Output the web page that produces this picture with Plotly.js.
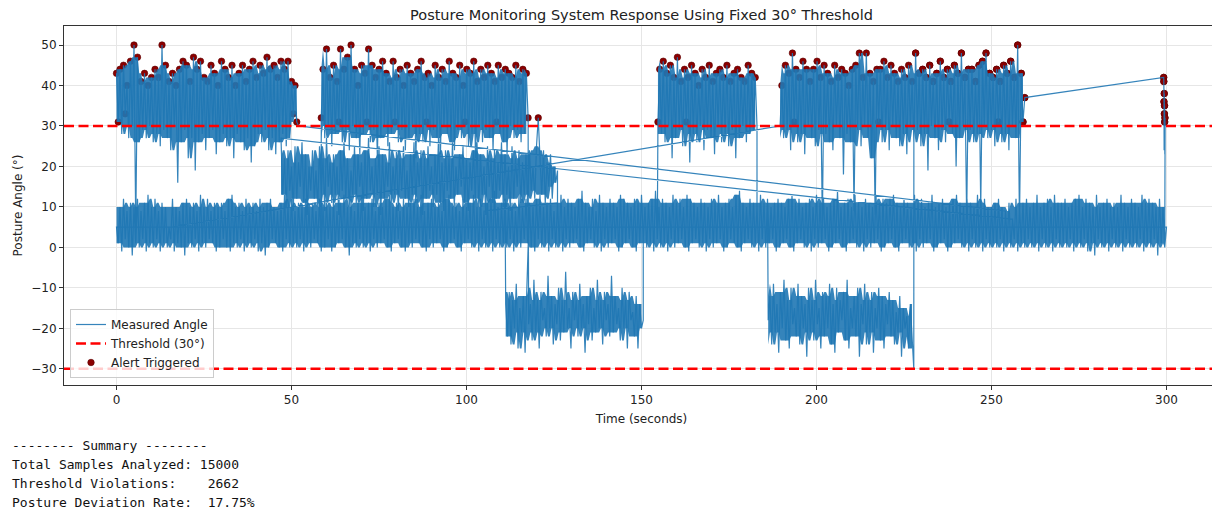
<!DOCTYPE html>
<html><head><meta charset="utf-8">
<script src="https://cdn.plot.ly/plotly-3.0.1.min.js"></script>
<style>
html,body{margin:0;padding:0;background:#fff;overflow:hidden;width:1212px;height:509px;}
#chart{position:absolute;left:0;top:0;width:1222px;height:509px;}
#summary{position:absolute;left:12px;top:436px;margin:0;font-family:"DejaVu Sans Mono",monospace;font-size:13px;line-height:19px;color:#111;}
</style></head><body>
<div id="chart"></div>
<pre id="summary"></pre>
<script>
// ---------- data (angles in degrees) ----------
const thresholds = [30, -30];
const xTicks = [0, 50, 100, 150, 200, 250, 300];
const yTicks = [-30, -20, -10, 0, 10, 20, 30, 40, 50];

// upright baseline, 0 -> 300 s
const baselineSpan = [0, 300];
const baselineAngle = [
5,1,10,-1,12,2,9,0,11,-2,10,1,12,0,9,2,11,-1,13,1,
10,0,12,2,9,-1,11,1,10,0,5,2,12,-1,10,1,9,0,11,-2,
12,1,10,0,11,2,9,-1,13,1,10,0,12,2,9,1,11,-1,10,0,
11,2,9,0,12,-1,13,1,10,0,11,2,9,-1,12,1,10,0,11,2,
9,-1,12,1,10,-2,11,0,12,2,10,1,9,0,11,-1,13,2,10,0,
12,1,9,0,11,2,10,-1,12,1,10,0,11,2,9,1,12,-1,10,0,
11,2,10,-1,12,0,9,1,11,2,13,0,10,-2,12,1,9,0,11,2,
13,0,10,1,11,-1,12,2,9,0,11,1,10,2,12,0,13,-1,10,1,
11,2,9,0,12,-1,10,1,11,0,12,2,10,1,13,0,9,-1,11,2,
12,0,10,1,11,2,9,-1,12,0,13,1,10,2,11,0,9,-1,12,1,
10,2,11,0,13,1,10,-1,12,2,9,0,11,1,12,-1,14,2,10,0,
11,1,12,0,10,2,11,-1,9,1,13,0,10,2,12,1,11,0,10,-1,
12,2,13,0,10,1,11,-1,12,2,9,0,11,1,13,-1,10,2,12,0,
11,1,10,2,12,0,14,-1,11,1,10,2,12,0,9,1,13,-1,11,2,
10,0,12,1,11,2,10,-1,13,0,12,1,11,2,10,0,12,-1,11,1,
13,2,10,0,11,1,12,-1,14,2,10,0,12,1,11,-1,10,2,13,0,
11,1,12,2,10,0,13,-1,12,1,11,2,10,0,12,1,11,-1,10,2,
12,0,11,1,13,2,10,-1,11,0,12,2,10,1,13,0,14,-1,11,1,
10,2,12,0,11,1,10,-1,13,2,11,0,12,1,10,2,11,-1,12,0,
11,1,10,2,12,0,13,-1,11,1,12,2,10,0,11,1,12,-1,10,2,
13,0,11,1,12,2,10,-1,11,0,12,1,14,2,10,0,11,-1,12,1,
10,2,13,0,11,1,10,-1,12,2,11,0,10,1,13,2,11,-1,12,0,
11,1,12,2,13,0,11,-1,10,1,12,2,11,0,10,1,13,-1,11,2,
12,0,10,1,11,2,13,-1,10,0,11,1,12,2,10,-1,11,0,12,1,
13,2,11,0,10,1,12,-1,11,2,10,0,13,1,11,-1,12,2,10,0,
10,1,11,0,12,2,10,-1,9,1,11,0,7,2,12,-1,10,1,11,0,
12,2,10,0,11,1,13,-1,10,2,11,0,12,1,10,-1,13,2,11,0,
11,1,12,0,10,2,11,-1,12,1,13,0,10,2,12,-1,11,1,10,-2,
13,2,10,0,11,1,12,-1,10,2,11,0,10,1,13,-1,11,2,10,0,
12,1,11,0,10,2,13,-1,11,1,12,0,11,2,10,-2,12,1,10,0,
5];

// forward-slouch episode A, 0 -> 52 s
const slouchASpan = [0, 52];
const slouchAAngle = [
43,31,44,28,45,33,40,27,46,30,
50,5,47,26,41,29,43,27,40,30,
42,26,44,28,42,25,50,29,45,27,
41,24,43,30,40,16,44,26,46,29,
45,22,41,27,47,19,44,26,46,28,
42,24,41,27,45,29,43,23,40,26,
46,28,44,25,42,27,45,22,40,28,
43,26,45,24,41,27,44,21,46,25,
42,28,45,26,43,29,47,24,44,27,
45,23,42,26,46,28,44,25,46,27,
41,33,40,31,30];

// mild lean episode B, 47 -> 126 s
const leanBSpan = [47, 126];
const leanBAngle = [
27,13,22,10,24,14,20,9,25,12,
21,15,26,11,23,8,20,14,24,12,
19,10,25,13,22,9,27,15,21,11,
23,13,20,8,24,14,26,12,22,10,
19,13,25,11,23,15,21,9,24,12,
27,14,20,10,22,13,25,8,23,12,
21,15,26,11,20,13,24,9,22,14,
25,12,19,10,23,13,26,11,21,15,
24,8,22,12,25,14,20,10,23,13,
27,11,21,9,24,14,22,12,26,10,
20,13,23,15,25,11,22,9,21,14,
24,12,26,10,23,13,20,8,25,15,
22,11,24,12,21,14,26,10,23,13,
20,9,25,12,22,15,24,11,21,13,
23,10,24,14,20,12,25,32,22,13,
24,11,21,15,23,12,20,16,19];

// forward-slouch episode C, 58.5 -> 117.6 s
const slouchCSpan = [58.5, 117.6];
const slouchCAngle = [
32,44,27,49,30,42,25,45,28,41,
31,49,26,44,29,47,24,50,30,44,
27,40,23,45,28,43,31,49,26,45,
29,42,22,44,27,46,30,43,25,41,
28,46,31,42,26,44,29,40,24,45,
27,43,30,41,22,44,28,46,26,42,
31,43,25,40,29,45,27,42,23,44,
30,41,28,46,26,43,24,42,29,45,
27,40,31,44,25,43,28,46,22,41,
30,44,26,42,29,45,27,43,24,41,
31,45,28,42,26,44,23,43,30,42,
27,45,29,41,26,44,28,43,32];

// backward recline episode D, 111.2 -> 150.5 s
const reclineDSpan = [111.2, 150.5];
const reclineDAngle = [
-14,-22,-11,-24,-13,-20,-9,-25,-15,-21,
-12,-26,-10,-19,-14,-23,-8,-21,-13,-25,
-11,-18,-15,-22,-7,-20,-12,-24,-14,-19,
-10,-23,-13,-21,-6,-20,-15,-25,-11,-18,
-13,-22,-9,-20,-14,-26,-12,-19,-10,-23,
-15,-21,-8,-20,-13,-24,-11,-18,-14,-22,
-7,-21,-12,-19,-15,-23,-10,-20,-13,-25,
-11,-18,-16,-22,-12,-25,-14,-20,-18];

// forward-slouch episode E, 154.7 -> 183 s
const slouchESpan = [154.7, 183];
const slouchEAngle = [
31,44,28,46,26,43,30,45,22,42,
27,47,29,41,25,44,31,42,21,45,
28,43,26,40,30,44,24,42,29,45,
27,41,23,43,30,44,26,42,28,45,
25,41,29,43,22,44,27,42,30,41,
26,45,28,43,29,42,30];

// backward recline episode F, 186.2 -> 227.8 s
const reclineFSpan = [186.2, 227.8];
const reclineFAngle = [
-18,-12,-24,-9,-21,-14,-26,-11,-20,-8,
-23,-13,-25,-10,-19,-15,-22,-9,-24,-12,
-20,-14,-27,-10,-21,-13,-23,-8,-19,-15,
-25,-11,-22,-12,-20,-9,-24,-14,-26,-10,
-21,-13,-18,-11,-23,-8,-25,-15,-20,-12,
-22,-10,-27,-14,-19,-9,-24,-13,-21,-11,
-26,-15,-20,-10,-23,-12,-25,-14,-19,-11,
-22,-13,-24,-16,-21,-12,-27,-15,-20,-17,
-25,-14,-22,-30];

// forward-slouch episode G, 189.6 -> 259.5 s
const slouchGSpan = [189.6, 259.5];
const slouchGAngle = [
30,40,27,45,29,43,24,48,31,44,
26,42,28,46,23,44,30,41,27,44,
25,46,29,42,6,45,28,43,26,41,
24,45,30,42,27,44,18,43,28,40,
26,44,9,45,29,48,25,42,30,48,
27,43,22,41,8,44,31,44,26,46,
29,42,24,45,30,43,27,41,25,44,
28,42,23,45,30,41,26,48,29,43,
25,44,28,42,19,45,30,41,27,43,
24,46,29,42,26,44,31,41,28,45,
20,43,27,48,30,42,7,44,29,44,
26,41,28,45,10,46,30,48,27,43,
29,42,25,44,31,41,26,45,28,43,
24,46,30,42,27,50,6,43,31,37];

// short slouch H at the end, 299.2 -> 299.6 s
const slouchHSpan = [299.2, 299.6];
const slouchHAngle = [42,41,36,24,38,33,35,31,23,32,30];

const runs = {
 BL:[baselineSpan, baselineAngle], A:[slouchASpan, slouchAAngle], B:[leanBSpan, leanBAngle],
 C:[slouchCSpan, slouchCAngle], D:[reclineDSpan, reclineDAngle], E:[slouchESpan, slouchEAngle],
 F:[reclineFSpan, reclineFAngle], G:[slouchGSpan, slouchGAngle], H:[slouchHSpan, slouchHAngle]
};
// order in which the recorded runs are stored (time stamps are not monotonic)
const runSequence = ['A','BL','B','BL','BL','G','H','BL','BL','C','D','BL','E','BL','F','G','H','BL','BL','D','BL','BL'];
const runFrom     = [0, 254, 47, 126, 0, 189.6, 299.2, 299.5, 0, 58.5, 117.6, 150.5, 154.7, 183, 186.2, 227.8, 299.2, 299.5, 15, 111.2, 117.6, 105];
const runTo       = [52, 256, 126, 300, 15, 259.5, 299.6, 300, 58.5, 117.6, 150.5, 154.7, 183, 186.2, 227.8, 259.5, 299.6, 300, 111.2, 117.6, 126, 120];
const denseRuns   = ['BL','A','B','C','D','E','F','G'];

// summary
const totalSamples = 15000;
const thresholdViolations = 2662;
const deviationRate = '17.75%';

// ---------- build ----------
function timesOf(k) {
  const span = runs[k][0], n = runs[k][1].length, dt = (span[1] - span[0]) / (n - 1);
  return runs[k][1].map((_, i) => span[0] + i * dt);
}
const tx = [], ty = [];
runSequence.forEach((k, j) => {
  const ts = timesOf(k), vals = runs[k][1];
  for (let i = 0; i < vals.length; i++) {
    if (ts[i] >= runFrom[j] - 1e-6 && ts[i] <= runTo[j] + 1e-6) { tx.push(ts[i]); ty.push(vals[i]); }
  }
});
const ax = [], ay = [];
for (let i = 0; i < tx.length; i++) if (ty[i] > thresholds[0]) { ax.push(tx[i]); ay.push(ty[i]); }

// dense core of each run: median of neighbouring stroke peaks / troughs of the recorded samples
function median(a) { const s = a.slice().sort((x, y) => x - y); return s[Math.floor(s.length / 2)]; }
function coreBand(k) {
  const ts = timesOf(k), v = runs[k][1], n = v.length;
  const p = [], q = [];
  for (let i = 0; i < n - 1; i++) { p.push(Math.max(v[i], v[i + 1])); q.push(Math.min(v[i], v[i + 1])); }
  const up = [], lo = [];
  for (let i = 0; i < n - 1; i++) {
    const a = Math.max(0, i - 2), b = Math.min(n - 1, i + 3);
    const u = median(p.slice(a, b)), l = median(q.slice(a, b));
    up.push(u); lo.push(Math.min(l, u));
  }
  const xs = ts.slice(0, n - 1);
  return {x: xs.concat(xs.slice().reverse()), y: up.concat(lo.slice().reverse())};
}

const blue = 'rgba(31,119,180,0.9)';
const xRange = [-15, 315];
const traces = [
  {x: ax, y: ay, mode: 'markers', name: 'Alert Triggered', legendrank: 3,
   marker: {color: '#8b0000', size: 6.5, line: {color: '#5a0000', width: 0.6}}, hoverinfo: 'skip'}
];
denseRuns.forEach(k => {
  const b = coreBand(k);
  traces.push({x: b.x, y: b.y, mode: 'lines', fill: 'toself', fillcolor: blue,
               line: {width: 0, color: blue}, showlegend: false, hoverinfo: 'skip'});
});
traces.push(
  {x: tx, y: ty, mode: 'lines', name: 'Measured Angle', legendrank: 1,
   line: {color: blue, width: 1.2, simplify: false}, hoverinfo: 'skip'},
  {x: xRange, y: [thresholds[0], thresholds[0]], mode: 'lines', name: 'Threshold (30°)', legendrank: 2,
   line: {color: '#ff0000', width: 2.6, dash: '10px,4.5px'}, hoverinfo: 'skip'},
  {x: xRange, y: [thresholds[1], thresholds[1]], mode: 'lines', showlegend: false,
   line: {color: '#ff0000', width: 2.6, dash: '10px,4.5px'}, hoverinfo: 'skip'}
);

const axisCommon = {showgrid: true, gridcolor: '#e6e6e6', gridwidth: 1, zeroline: false,
  showline: true, linecolor: '#333', linewidth: 1, mirror: true, ticks: 'outside', ticklen: 4,
  tickcolor: '#333', tickfont: {size: 12, color: '#222'}, automargin: false};

const layout = {
  width: 1222, height: 509,
  margin: {l: 64, r: 3, t: 26, b: 124},
  paper_bgcolor: '#fff', plot_bgcolor: '#fff',
  font: {family: 'DejaVu Sans, sans-serif', size: 12, color: '#222'},
  title: {text: 'Posture Monitoring System Response Using Fixed 30° Threshold', x: 0.5, xref: 'paper',
          y: 1 - 15/509, yref: 'container', yanchor: 'middle', font: {size: 14.5, color: '#222'}},
  xaxis: Object.assign({}, axisCommon, {range: xRange, tickvals: xTicks,
          title: {text: 'Time (seconds)', standoff: 8, font: {size: 12}}}),
  yaxis: Object.assign({}, axisCommon, {range: [-34, 54.7], tickvals: yTicks,
          title: {text: 'Posture Angle (°)', standoff: 6, font: {size: 12}}}),
  showlegend: true,
  legend: {x: 0.0052, y: 0.0195, xanchor: 'left', yanchor: 'bottom', bgcolor: 'rgba(255,255,255,0.8)',
           bordercolor: '#cccccc', borderwidth: 1, font: {size: 12, color: '#222'}, tracegroupgap: 0,
           traceorder: 'normal'}
};
Plotly.newPlot('chart', traces, layout, {displayModeBar: false, staticPlot: true});

document.getElementById('summary').textContent =
  '-------- Summary --------\n' +
  'Total Samples Analyzed: ' + totalSamples + '\n' +
  'Threshold Violations:    ' + thresholdViolations + '\n' +
  'Posture Deviation Rate:  ' + deviationRate;
</script></body></html>
